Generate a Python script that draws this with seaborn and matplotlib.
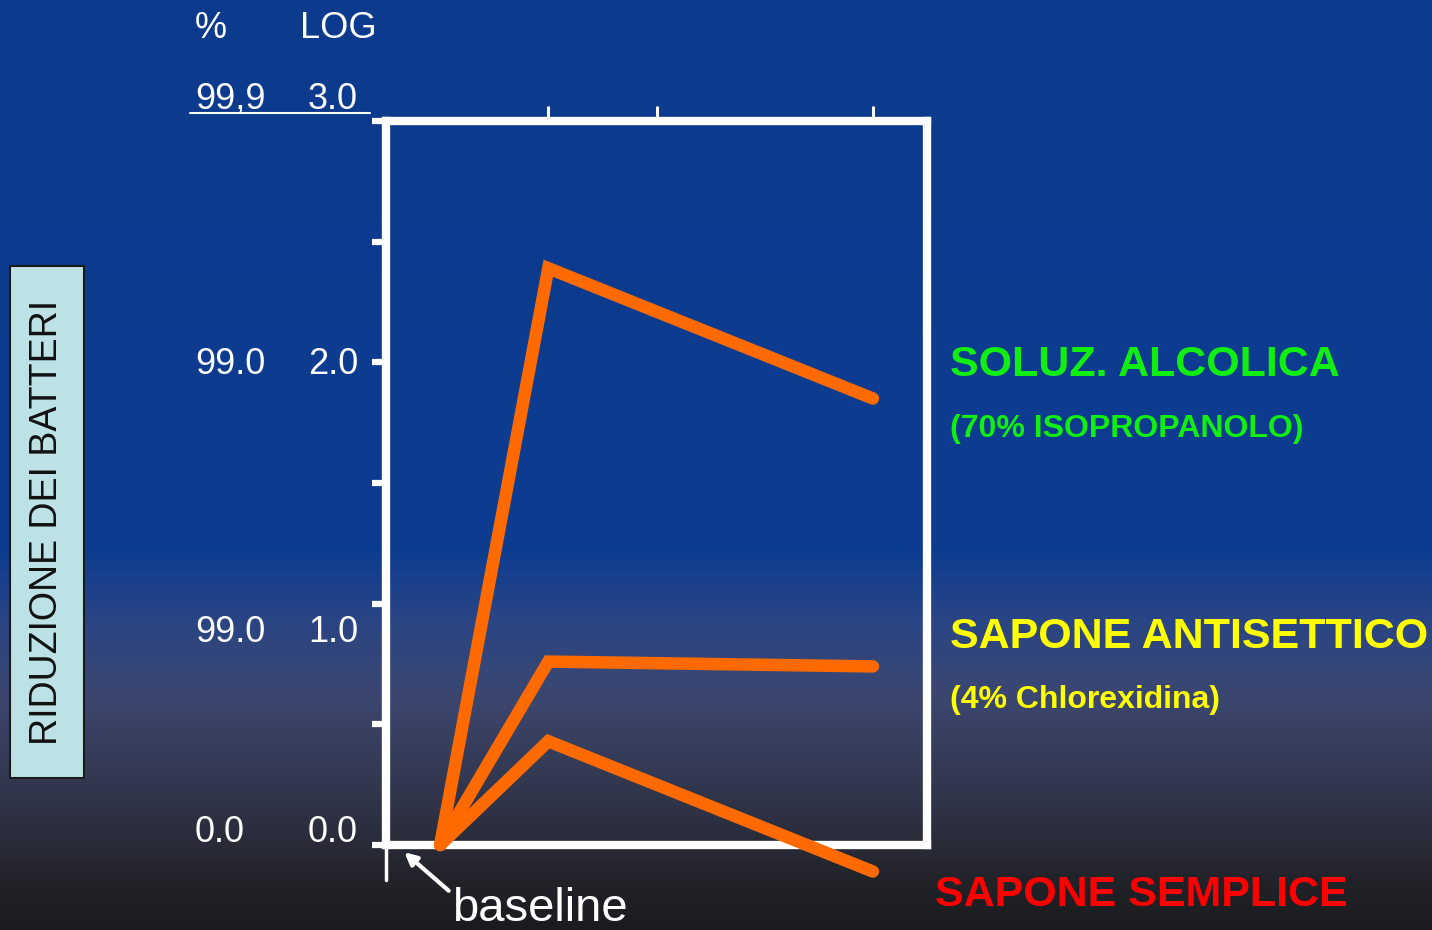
import numpy as np
import pandas as pd
import matplotlib
matplotlib.use('Agg')
import matplotlib.pyplot as plt
import matplotlib.transforms as mtransforms
from matplotlib.colors import LinearSegmentedColormap
from matplotlib.lines import Line2D
from matplotlib.patches import Rectangle
import seaborn as sns

# data (log reduction of bacteria over time)
time_points = [0, 1, 4]
alcohol = [0.0, 2.39, 1.85]
antiseptic = [0.0, 0.76, 0.74]
plain_soap = [0.0, 0.43, -0.11]

products = ['SOLUZ. ALCOLICA', 'SAPONE ANTISETTICO', 'SAPONE SEMPLICE']

# y-axis labels: percent column and log column
pct_labels = ['99,9', '99.0', '99.0', '0.0']
log_labels = ['3.0', '2.0', '1.0', '0.0']
label_y = [3.09, 1.99, 0.88, 0.05]

df = pd.DataFrame({
    'tempo': time_points * 3,
    'log': alcohol + antiseptic + plain_soap,
    'prodotto': [p for p in products for _ in time_points],
})

sns.set_style('ticks')
plt.rcParams['font.family'] = ['Liberation Sans', 'DejaVu Sans']

W, H = 1432, 930
fig = plt.figure(figsize=(W / 100, H / 100), dpi=100)

# background gradient
bg = fig.add_axes([0, 0, 1, 1], zorder=0)
bg.axis('off')
cmap = LinearSegmentedColormap.from_list('bg', [
    (0.0, '#0d3a8c'), (0.59, '#0c3c91'), (0.67, '#2a4584'),
    (0.75, '#3c4770'), (0.86, '#31354a'), (0.95, '#222329'), (1.0, '#1b1b1f')])
bg.imshow(np.linspace(0, 1, 500).reshape(-1, 1), aspect='auto', cmap=cmap,
          extent=[0, 1, 0, 1], origin='upper')
bg.set_xlim(0, 1)
bg.set_ylim(0, 1)

ax = fig.add_axes([386 / W, 1 - 845 / H, (927 - 386) / W, (845 - 121) / H], zorder=1)
ax.patch.set_alpha(0)

orange = '#ff6a00'
sns.lineplot(data=df, x='tempo', y='log', hue='prodotto', palette=[orange] * 3,
             legend=False, linewidth=9, zorder=3, clip_on=False,
             solid_joinstyle='miter', solid_capstyle='round', ax=ax)

ax.set_xlim(-0.5, 4.50)
ax.set_ylim(0, 3.0)
ax.set_yticks(np.arange(0, 3.01, 0.5))
ax.set_yticklabels([])
ax.set_xticks([1, 2, 4])
ax.xaxis.tick_top()
ax.set_xticklabels([])
ax.set_xlabel('')
ax.set_ylabel('')
for s in ax.spines.values():
    s.set_color('white')
    s.set_linewidth(6)
ax.tick_params(axis='y', colors='white', length=10, width=4.5, direction='out')
ax.tick_params(axis='x', colors='white', length=11, width=2.2, direction='out')

# little stub below the left corner
ax.plot([0, 0], [0, -0.048], transform=ax.transAxes, color='white', lw=2.5,
        clip_on=False, zorder=3)

# tick label columns
trans = mtransforms.blended_transform_factory(fig.transFigure, ax.transData)
for p, l, y in zip(pct_labels, log_labels, label_y):
    ax.text(195 / W, y, p, transform=trans, color='white', fontsize=26, va='center', ha='left')
    ax.text(308 / W, y, l, transform=trans, color='white', fontsize=26, va='center', ha='left')
fig.text(195 / W, 1 - 28 / H, '%', color='white', fontsize=26, va='center', ha='left')
fig.text(300 / W, 1 - 28 / H, 'LOG', color='white', fontsize=26, va='center', ha='left')
fig.add_artist(Line2D([190 / W, 370 / W], [1 - 113 / H] * 2, color='white', lw=1.5))

# baseline annotation
ax.annotate('baseline', xy=(-0.33, -0.03), xycoords='data',
            xytext=(452 / W, 1 - 909 / H), textcoords='figure fraction',
            ha='left', va='center', fontsize=34, color='white', annotation_clip=False,
            arrowprops=dict(arrowstyle='-|>', color='white', lw=3, mutation_scale=18,
                            shrinkA=0, shrinkB=0, relpos=(0, 0.85)))

# right-hand labels
fig.text(950 / W, 1 - 365 / H, 'SOLUZ. ALCOLICA', color='#11ee11', fontsize=31,
         fontweight='bold', va='center')
fig.text(950 / W, 1 - 429 / H, '(70% ISOPROPANOLO)', color='#11ee11', fontsize=23,
         fontweight='bold', va='center')
fig.text(950 / W, 1 - 637 / H, 'SAPONE ANTISETTICO', color='#ffff00', fontsize=31,
         fontweight='bold', va='center')
fig.text(950 / W, 1 - 700 / H, '(4% Chlorexidina)', color='#ffff00', fontsize=23,
         fontweight='bold', va='center')
fig.text(935 / W, 1 - 895 / H, 'SAPONE SEMPLICE', color='#ff0000', fontsize=31,
         fontweight='bold', va='center')

# y-axis title box
fig.add_artist(Rectangle((10 / W, 1 - 778 / H), 74 / W, 512 / H, transform=fig.transFigure,
                         facecolor='#bde2e5', edgecolor='#1a1a1a', lw=1.5))
fig.text(47 / W, 1 - 522 / H, 'RIDUZIONE DEI BATTERI', rotation=90, color='#111111',
         fontsize=27, ha='center', va='center')

fig.savefig('out.png', dpi=100)
